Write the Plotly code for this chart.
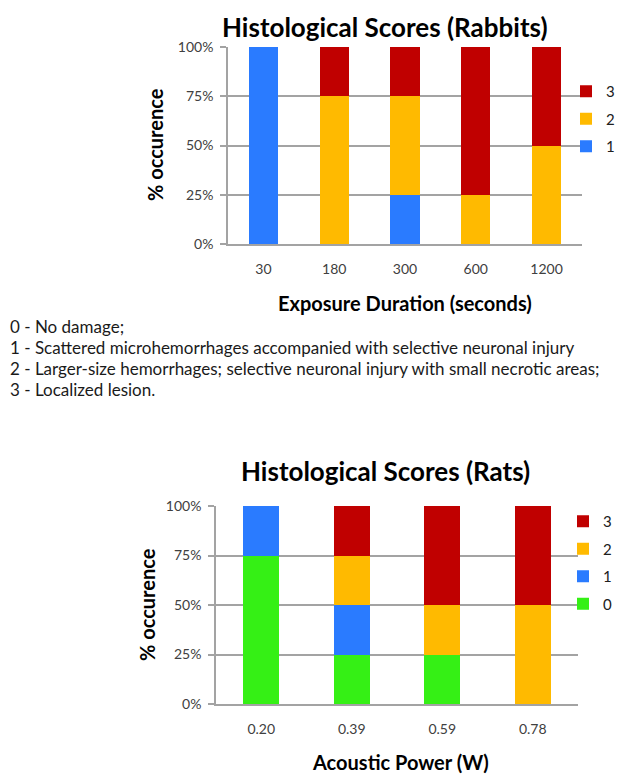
import plotly.graph_objects as go

# The page body adds an 8px margin, so the figure is sized to the visible area
OFF = 8
W, H = 625 - OFF, 774 - OFF

# ---- data ----
rabbit_durations = ["30", "180", "300", "600", "1200"]
rabbit_score1 = [100, 0, 25, 0, 0]
rabbit_score2 = [0, 75, 50, 25, 50]
rabbit_score3 = [0, 25, 25, 75, 50]

rat_power = ["0.20", "0.39", "0.59", "0.78"]
rat_score0 = [75, 25, 25, 0]
rat_score1 = [25, 25, 0, 0]
rat_score2 = [0, 25, 25, 50]
rat_score3 = [0, 25, 50, 50]

pct_ticks = [0, 25, 50, 75, 100]
pct_labels = ["0%", "25%", "50%", "75%", "100%"]

score_desc = [
    "0 - No damage;",
    "1 - Scattered microhemorrhages accompanied with selective neuronal injury",
    "2 - Larger-size hemorrhages; selective neuronal injury with small necrotic areas;",
    "3 - Localized lesion.",
]

C0, C1, C2, C3 = "#35F015", "#2A7BFF", "#FFBA00", "#C00000"
FONT = "Lato"
GRID = "#A3A3A3"

def px(x):
    return (x - OFF) / W

def py(y):
    return 1 - (y - OFF) / H

fig = go.Figure()

# top chart
for name, vals, col in [("1", rabbit_score1, C1), ("2", rabbit_score2, C2), ("3", rabbit_score3, C3)]:
    fig.add_trace(go.Bar(x=rabbit_durations, y=vals, name=name, marker_color=col,
                         marker_line_width=0, xaxis="x", yaxis="y", legend="legend",
                         legendgroup="t" + name, legendrank=10 - int(name)))
# bottom chart
for name, vals, col in [("0", rat_score0, C0), ("1", rat_score1, C1), ("2", rat_score2, C2), ("3", rat_score3, C3)]:
    fig.add_trace(go.Bar(x=rat_power, y=vals, name=name, marker_color=col,
                         marker_line_width=0, xaxis="x2", yaxis="y2", legend="legend2",
                         legendgroup="b" + name, legendrank=10 - int(name), width=0.4))

tickfont = dict(family=FONT, size=14, color="#404040")

def xax(domain, anchor):
    return dict(domain=domain, anchor=anchor, type="category", showgrid=False,
                showline=True, linecolor=GRID, linewidth=1.5, ticks="",
                tickfont=tickfont, ticklabelstandoff=11, fixedrange=True, automargin=False)

def yax(domain, anchor):
    return dict(domain=domain, anchor=anchor, range=[0, 100], tickvals=pct_ticks,
                ticktext=pct_labels, showgrid=True, gridcolor=GRID, gridwidth=1.5,
                showline=True, linecolor=GRID, linewidth=1.5, ticks="outside",
                ticklen=6, tickcolor=GRID, tickwidth=1.5, tickfont=tickfont,
                ticklabelstandoff=4, zeroline=False, fixedrange=True, automargin=False)

annotations = []
def ann(text, x, y, size, bold=True, angle=0, xanchor="center", color="#000000"):
    annotations.append(dict(text=("<b>%s</b>" % text) if bold else text, x=px(x), y=py(y),
                            xref="paper", yref="paper", showarrow=False, textangle=angle,
                            xanchor=xanchor, yanchor="middle",
                            font=dict(family=FONT, size=size, color=color)))

ann("Histological Scores (Rabbits)", 385, 27, 26)
ann("Exposure Duration (seconds)", 405, 303, 20)
ann("% occurence", 155, 145, 20, angle=-90)
ann("Histological Scores (Rats)", 385, 471, 26)
ann("Acoustic Power (W)", 400, 762, 20)
ann("% occurence", 147, 605, 20, angle=-90)
for i, line in enumerate(score_desc):
    ann(line, OFF, 326 + i * 21.3, 17, bold=False, xanchor="left", color="#1a1a1a")

legfont = dict(family=FONT, size=15, color="#202020")

fig.update_layout(
    width=W, height=H, margin=dict(l=0, r=0, t=0, b=0, autoexpand=False),
    paper_bgcolor="white", plot_bgcolor="white",
    barmode="stack", bargap=0.59,
    xaxis=xax([px(228), px(582)], "y"),
    yaxis=yax([py(244), py(47)], "x"),
    xaxis2=xax([px(216), px(578)], "y2"),
    yaxis2=yax([py(704), py(506)], "x2"),
    legend=dict(x=px(566), y=py(75), xanchor="left", yanchor="top",
                traceorder="grouped", tracegroupgap=5, font=legfont,
                itemwidth=30, bgcolor="rgba(0,0,0,0)"),
    legend2=dict(x=px(563), y=py(505), xanchor="left", yanchor="top",
                 traceorder="grouped", tracegroupgap=5, font=legfont,
                 itemwidth=30, bgcolor="rgba(0,0,0,0)"),
    annotations=annotations,
    showlegend=True,
)

fig.write_html("out.html")
